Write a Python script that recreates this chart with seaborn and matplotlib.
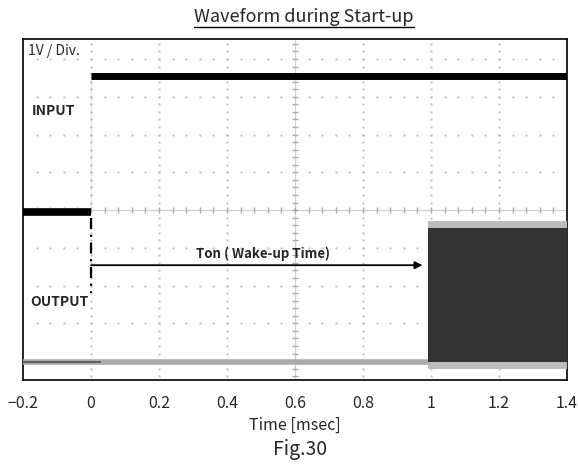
import numpy as np
import pandas as pd
import seaborn as sns
import matplotlib.pyplot as plt
from matplotlib.lines import Line2D

# --- values (time in msec, level in divisions of 1V) ---
x_ticks = [-0.2, 0, 0.2, 0.4, 0.6, 0.8, 1, 1.2, 1.4]
x_tick_labels = ["\u22120.2", "0", "0.2", "0.4", "0.6", "0.8", "1", "1.2", "1.4"]

input_low_time = [-0.2, 0.0]
input_low_level = [-0.05, -0.05]
input_high_time = [0.0, 1.4]
input_high_level = [3.55, 3.55]
input_edge_time = [0.0, 0.0]
input_edge_level = [-0.05, 3.55]

output_base_time = [-0.2, 0.99]
output_base_level = [-4.03, -4.03]
burst_time = [0.99, 1.4]
burst_top = [-0.48, -0.48]
burst_bottom = [-4.03, -4.03]
burst_top_fringe = [-0.3, -0.3]
burst_bottom_fringe = [-4.22, -4.22]

ton_start = 0.0
ton_end = 0.975
ton_level = -1.46

sns.set_theme(style="white")
plt.rcParams['font.family'] = ['Noto Sans CJK JP', 'DejaVu Sans']
plt.rcParams['axes.unicode_minus'] = True

fig = plt.figure(figsize=(5.78, 4.76), dpi=100)
ax = fig.add_axes([23/578, 1-380/476, 544/578, 341/476])
ax.set_xlim(-0.2, 1.4)
ax.set_ylim(-4.5, 4.53)

# scope graticule: dotted divisions plus centre crosshair
dot_c = "#c4c4c4"
for xv in x_ticks[1:-1]:
    yy = np.arange(-4.4, 4.5, 0.2)
    ax.plot(np.full_like(yy, xv), yy, ls="none", marker=".", ms=1.4, color=dot_c, zorder=1)
for yv in range(-4, 5):
    xx = np.arange(-0.16, 1.4, 0.04)
    ax.plot(xx, np.full_like(xx, yv), ls="none", marker=".", ms=1.4, color=dot_c, zorder=1)
ax.axhline(0, color="#d0d0d0", lw=0.9, zorder=1)
ax.axvline(0.6, color="#d0d0d0", lw=0.9, zorder=1)
xx = np.arange(-0.16, 1.4, 0.04)
ax.plot(xx, np.zeros_like(xx), ls="none", marker="|", ms=5, mew=0.9, color="#a8a8a8", zorder=1)
yy = np.arange(-4.4, 4.5, 0.2)
ax.plot(np.full_like(yy, 0.6), yy, ls="none", marker="_", ms=5, mew=0.9, color="#a8a8a8", zorder=1)

# INPUT trace
sns.lineplot(x=input_edge_time, y=input_edge_level, ax=ax, color="#8c8c8c", lw=1.0, zorder=3)
sns.lineplot(x=input_low_time, y=input_low_level, ax=ax, color="black", lw=5.5, zorder=4,
             solid_capstyle="butt")
sns.lineplot(x=input_high_time, y=input_high_level, ax=ax, color="black", lw=5.0, zorder=4,
             solid_capstyle="butt")

# OUTPUT trace
sns.lineplot(x=output_base_time, y=output_base_level, ax=ax, color="#aaaaaa", lw=4.0, zorder=3,
             solid_capstyle="butt")
sns.lineplot(x=[output_base_time[0], 0.03], y=output_base_level, ax=ax, color="#555555", lw=1.2,
             zorder=3, solid_capstyle="butt")
ax.fill_between(burst_time, burst_bottom_fringe, burst_top_fringe, color="#bcbcbc", lw=0, zorder=3)
ax.fill_between(burst_time, burst_bottom, burst_top, color="#333333", lw=0, zorder=4)

# Ton marker
ax.plot([ton_start, ton_start], [-0.2, -2.2], color="black", lw=1.6, ls=(0, (5, 2.5, 1, 2.5)), zorder=5)
ax.annotate("", xy=(ton_end, ton_level), xytext=(ton_start, ton_level),
            arrowprops=dict(arrowstyle="-|>", color="black", lw=1.3, mutation_scale=11,
                            shrinkA=0, shrinkB=0), zorder=5)
ax.text(0.31, ton_level + 0.12, "Ton ( Wake-up Time)", fontsize=9.5, fontweight="bold",
        ha="left", va="bottom", zorder=6)

ax.text(-0.175, 2.62, "INPUT", fontsize=10, fontweight="bold", ha="left", va="center")
ax.text(-0.18, -2.43, "OUTPUT", fontsize=10, fontweight="bold", ha="left", va="center")
ax.text(-0.185, 4.2, "1V / Div.", fontsize=10, ha="left", va="center")

ax.set_xticks(x_ticks)
ax.set_xticklabels(x_tick_labels, fontsize=11.5)
ax.set_yticks([])
ax.tick_params(axis="x", length=0, pad=11)
for sp in ax.spines.values():
    sp.set_color("black")
    sp.set_linewidth(1.2)
ax.set_xlabel("Time [msec]", fontsize=11.5, labelpad=3)

title = fig.text(304/578, 1-17/476, "Waveform during Start-up", fontsize=13, ha="center", va="center")
fig.text(300/578, 1-450/476, "Fig.30", fontsize=14, ha="center", va="center")

fig.canvas.draw()
bb = title.get_window_extent()
fig.add_artist(Line2D([bb.x0/578, bb.x1/578], [(bb.y0 - 1)/476, (bb.y0 - 1)/476],
                      color="black", lw=1.0))

fig.savefig("out.png", dpi=100)
